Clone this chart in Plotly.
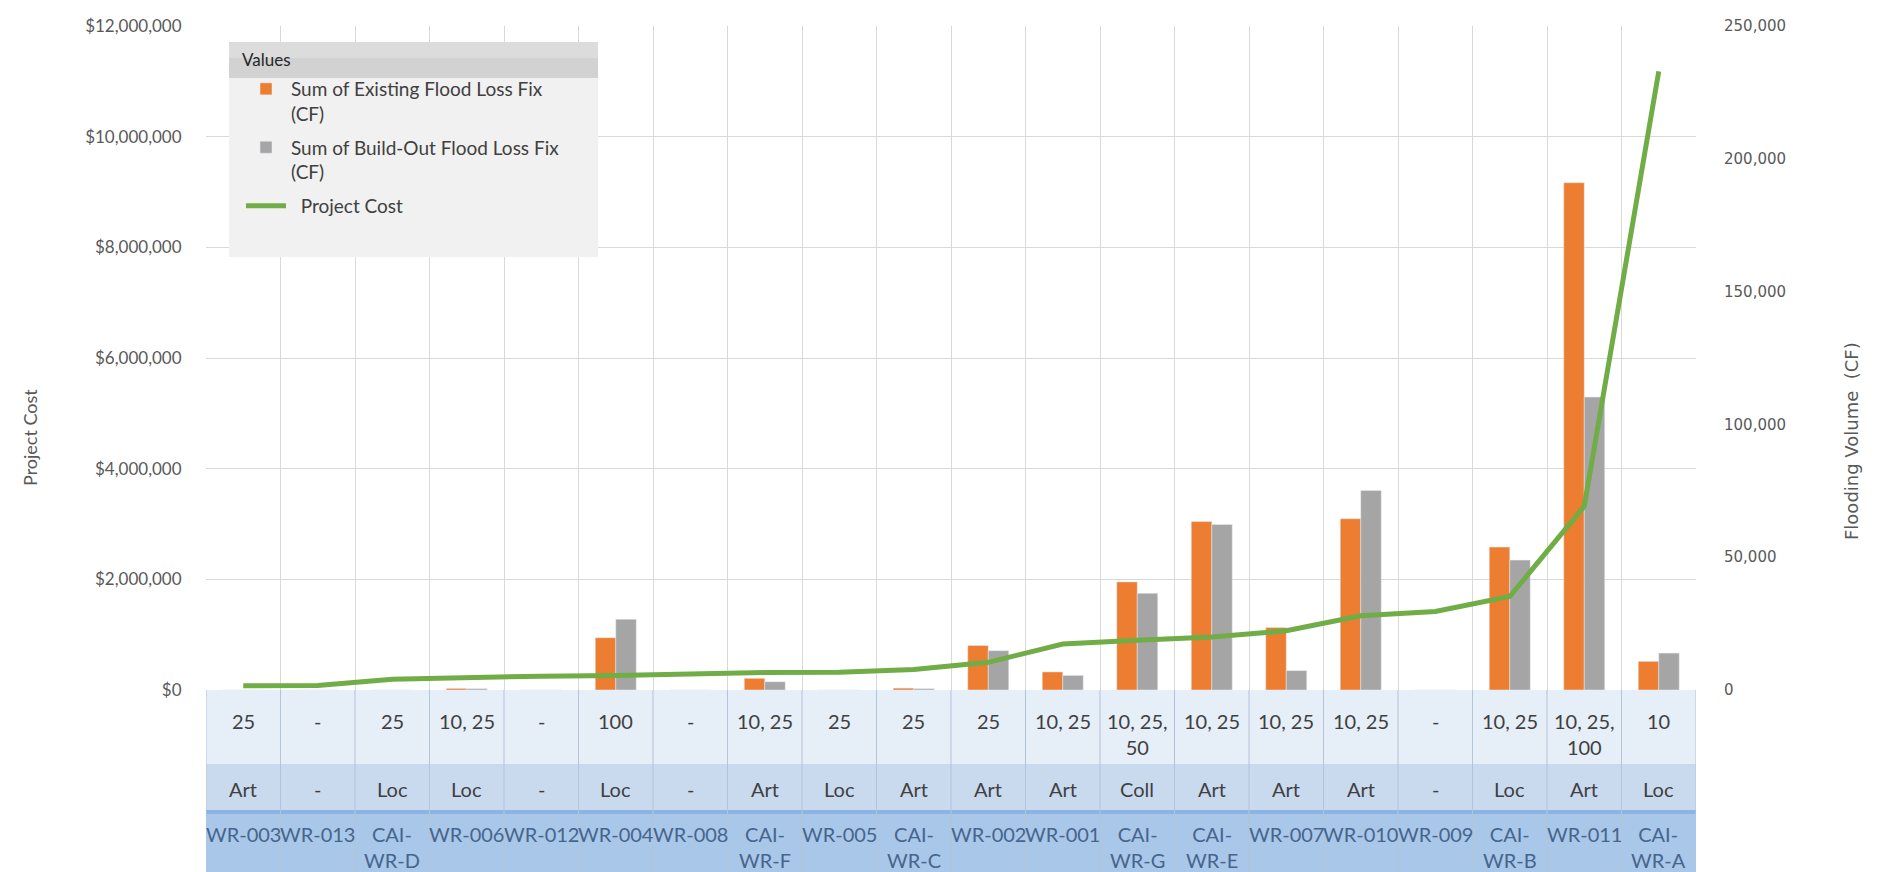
import plotly.graph_objects as go

# ---------------- data ----------------
project_ids = ["WR-003", "WR-013", "CAI-WR-D", "WR-006", "WR-012", "WR-004", "WR-008",
               "CAI-WR-F", "WR-005", "CAI-WR-C", "WR-002", "WR-001", "CAI-WR-G", "CAI-WR-E",
               "WR-007", "WR-010", "WR-009", "CAI-WR-B", "WR-011", "CAI-WR-A"]
road_types = ["Art", "-", "Loc", "Loc", "-", "Loc", "-", "Art", "Loc", "Art",
              "Art", "Art", "Coll", "Art", "Art", "Art", "-", "Loc", "Art", "Loc"]
storm_events = ["25", "-", "25", "10, 25", "-", "100", "-", "10, 25", "25", "25",
                "25", "10, 25", "10, 25, 50", "10, 25", "10, 25", "10, 25", "-", "10, 25",
                "10, 25, 100", "10"]
existing_fix_cf = [0, 0, 0, 600, 0, 19700, 0, 4400, 0, 700,
                   16800, 6800, 40700, 63400, 23500, 64500, 0, 53800, 191000, 10800]
buildout_fix_cf = [0, 0, 0, 500, 0, 26600, 0, 3100, 0, 500,
                   14800, 5500, 36400, 62300, 7300, 75100, 0, 48900, 110300, 13900]
project_cost = [75000, 80000, 195000, 225000, 250000, 260000, 290000, 315000, 320000, 370000,
                500000, 830000, 900000, 960000, 1070000, 1340000, 1420000, 1690000, 3320000, 11180000]

# ---------------- geometry ----------------
W, H = 1877, 872
ML, MR, MT, MB = 198, 189, 18, 190
PW = W - ML - MR
PH = H - MT - MB
n = len(project_ids)
xs = list(range(n))


def py(px):
    """pixel y (from top of figure) -> paper y"""
    return (H - MB - px) / PH


def pxx(px):
    """pixel x (from left of figure) -> paper x"""
    return (px - ML) / PW


FONT = "Lato"
FONT_R = "DejaVu Sans"
ORANGE = "#ED7D31"
GRAY = "#A5A5A5"
GREEN = "#70AD47"
TXT = "#404040"
AX = "#595959"

fig = go.Figure()
fig.add_trace(go.Bar(x=xs, y=existing_fix_cf, name="Sum of Existing Flood Loss Fix<br>(CF)",
                     marker_color=ORANGE, yaxis="y", legendgroup="a"))
fig.add_trace(go.Bar(x=xs, y=buildout_fix_cf, name="Sum of Build-Out Flood Loss Fix<br>(CF)",
                     marker_color=GRAY, yaxis="y", legendgroup="b"))
fig.add_trace(go.Scatter(x=xs, y=project_cost, name="\u00a0\u00a0Project Cost", mode="lines",
                         line=dict(color=GREEN, width=5), yaxis="y2", legendgroup="c"))

shapes = []
# category-area rows
rows = [(682, 756, "#E6EEF8"), (756, 802, "#C9DAEF"), (802, 806, "#8DB3E2"), (806, 872, "#A9C7E8")]
for top, bot, col in rows:
    shapes.append(dict(type="rect", xref="paper", yref="paper", x0=0, x1=1,
                       y0=py(bot), y1=py(top), fillcolor=col, line_width=0, layer="above"))
# separators in the category area
for i in range(n + 1):
    shapes.append(dict(type="line", xref="x", yref="paper", x0=i - 0.5, x1=i - 0.5,
                       y0=py(872), y1=0, line=dict(color="#B3C3D8", width=1)))
# legend box + header band
shapes.append(dict(type="rect", xref="paper", yref="paper", x0=pxx(221), x1=pxx(590),
                   y0=py(249), y1=py(34), fillcolor="#F1F1F1", line_width=0, layer="above"))
shapes.append(dict(type="rect", xref="paper", yref="paper", x0=pxx(221), x1=pxx(590),
                   y0=py(70), y1=py(34), fillcolor="#D2D2D2", line_width=0, layer="above"))
shapes.append(dict(type="rect", xref="paper", yref="paper", x0=pxx(221), x1=pxx(590),
                   y0=py(50), y1=py(34), fillcolor="#DCDCDC", line_width=0, layer="above"))

annotations = []


def wrap_storm(s):
    parts = s.split(", ")
    if len(parts) >= 3:
        return ", ".join(parts[:2]) + ",<br>" + ", ".join(parts[2:])
    return s


for i in xs:
    annotations.append(dict(x=i, y=py(699), xref="x", yref="paper", yanchor="top",
                            text=wrap_storm(storm_events[i]), showarrow=False,
                            font=dict(family=FONT, size=20, color=TXT)))
    annotations.append(dict(x=i, y=py(781), xref="x", yref="paper", yanchor="middle",
                            text=road_types[i], showarrow=False,
                            font=dict(family=FONT, size=20, color=TXT)))
    annotations.append(dict(x=i, y=py(812), xref="x", yref="paper", yanchor="top",
                            text=project_ids[i].replace("CAI-", "CAI-<br>"), showarrow=False,
                            font=dict(family=FONT, size=20, color="#46658D")))

annotations.append(dict(x=pxx(232), y=py(52), xref="paper", yref="paper",
                        xanchor="left", yanchor="middle", text="Values", showarrow=False,
                        font=dict(family=FONT, size=17, color="#262626")))
# axis titles
annotations.append(dict(x=pxx(22), y=py(430), xref="paper", yref="paper",
                        text="Project Cost", textangle=-90, showarrow=False,
                        xanchor="center", yanchor="middle",
                        font=dict(family=FONT, size=18, color=AX)))
annotations.append(dict(x=pxx(1843), y=py(433), xref="paper", yref="paper",
                        text="Flooding Volume  (CF)", textangle=-90, showarrow=False,
                        xanchor="center", yanchor="middle",
                        font=dict(family=FONT_R, size=18, color=AX)))

fig.update_layout(
    width=W, height=H,
    margin=dict(l=ML, r=MR, t=MT, b=MB, autoexpand=False),
    paper_bgcolor="white", plot_bgcolor="white",
    barmode="group", bargap=0.45, bargroupgap=0,
    font=dict(family=FONT, color=AX),
    xaxis=dict(range=[-0.5, n - 0.5], tickvals=[i - 0.5 for i in range(n + 1)],
               showticklabels=False, showgrid=True, gridcolor="#D9D9D9", gridwidth=1,
               zeroline=False, ticks="", fixedrange=True),
    yaxis=dict(side="right", range=[0, 250000], dtick=50000, tickformat=",",
               showgrid=False, zeroline=False, ticks="outside", ticklen=24,
               tickcolor="rgba(0,0,0,0)",
               tickfont=dict(family=FONT_R, size=15, color=AX)),
    yaxis2=dict(side="left", overlaying="y", range=[0, 12000000], dtick=2000000,
                tickformat="$,.0f", showgrid=True, gridcolor="#D9D9D9", gridwidth=1,
                zeroline=False, ticks="outside", ticklen=20, tickcolor="rgba(0,0,0,0)",
                tickfont=dict(family=FONT, size=17, color=AX)),
    legend=dict(x=pxx(233), y=py(62), xanchor="left", yanchor="top",
                bgcolor="rgba(0,0,0,0)", valign="top", traceorder="grouped",
                tracegroupgap=6,
                font=dict(family=FONT, size=19, color=TXT), itemwidth=40),
    shapes=shapes,
    annotations=annotations,
)

fig.write_html("out.html")
